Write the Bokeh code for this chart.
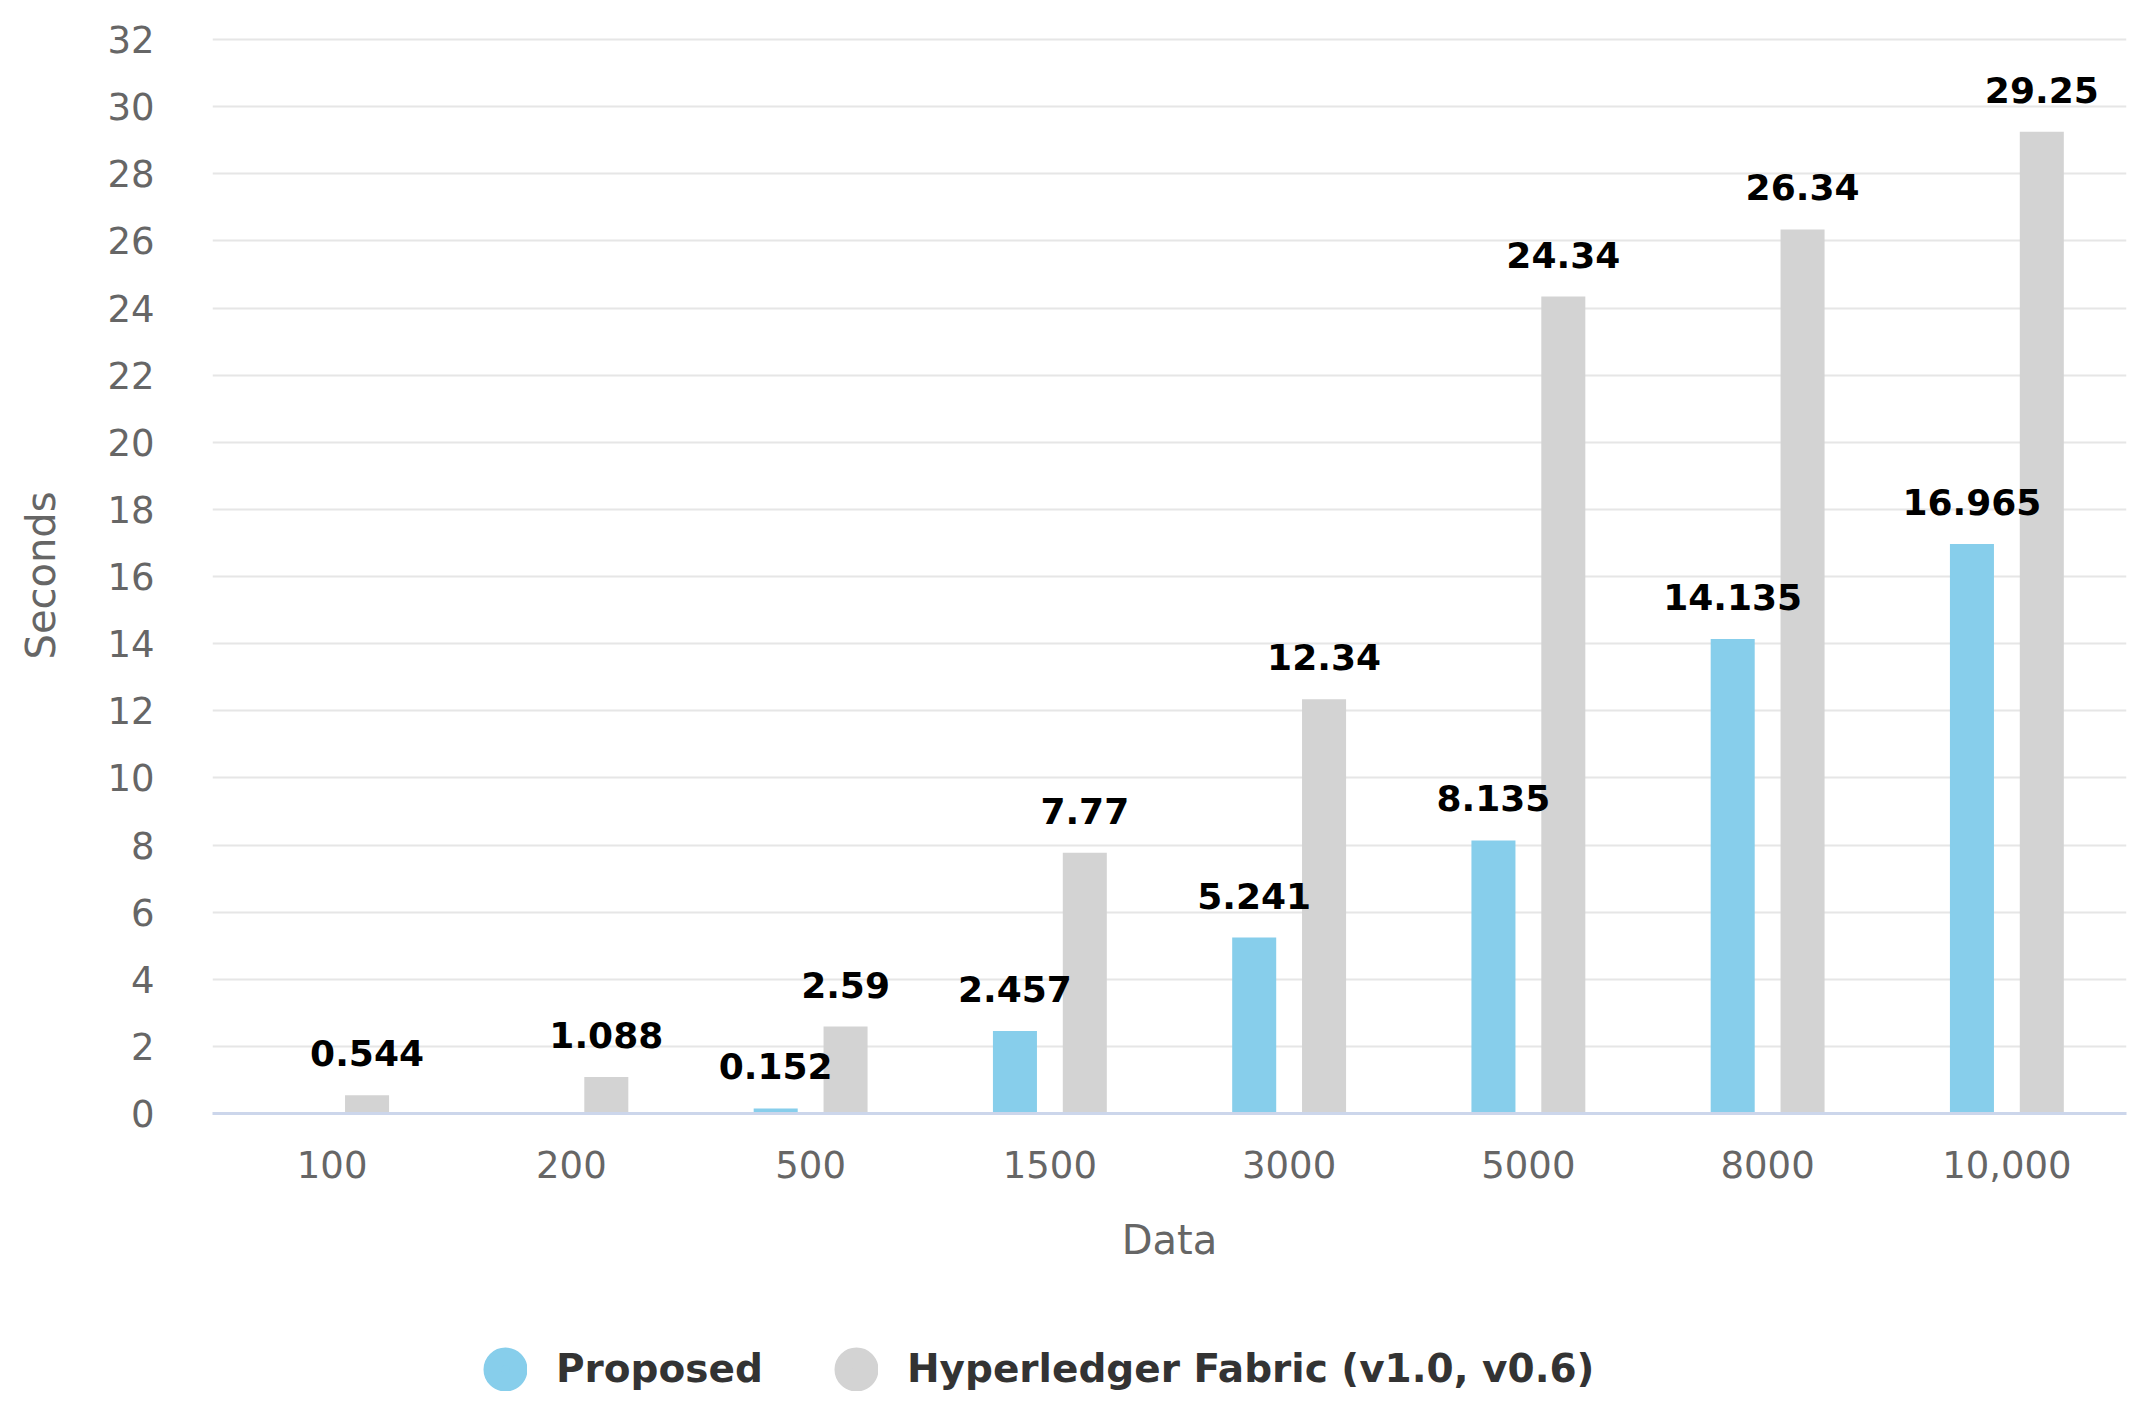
import math
from bokeh.plotting import figure
from bokeh.layouts import column
from bokeh.models import (ColumnDataSource, FactorRange, Range1d, FixedTicker,
                          Legend, LegendItem)
from bokeh.transform import dodge
from bokeh.core.properties import value
from bokeh.embed import file_html
from bokeh.resources import INLINE

# ---- data ----
categories = ["100", "200", "500", "1500", "3000", "5000", "8000", "10,000"]
proposed = [float("nan"), float("nan"), 0.152, 2.457, 5.241, 8.135, 14.135, 16.965]
fabric = [0.544, 1.088, 2.59, 7.77, 12.34, 24.34, 26.34, 29.25]
y_ticks = list(range(0, 34, 2))
series_names = ["Proposed", "Hyperledger Fabric (v1.0, v0.6)"]
series_colors = ["#87CEEB", "#D3D3D3"]

FONT = "DejaVu Sans"

bars = ColumnDataSource(dict(cat=categories, proposed=proposed, fabric=fabric))

def label_source(vals):
    c = [k for k, v in zip(categories, vals) if not math.isnan(v)]
    v = [v for v in vals if not math.isnan(v)]
    return ColumnDataSource(dict(cat=c, val=v, lab=[str(x) for x in v]))

p = figure(width=2138, height=1300,
           x_range=FactorRange(factors=categories),
           y_range=Range1d(0, 32.06),
           output_backend="svg", toolbar_location=None,
           min_border_left=212, min_border_right=12,
           min_border_top=37, min_border_bottom=187)
p.outline_line_color = None
p.background_fill_color = "white"
p.border_fill_color = "white"

off = 0.146
bw = 0.184
p.vbar(x=dodge("cat", -off, range=p.x_range), top="proposed", width=bw,
       source=bars, fill_color=series_colors[0], line_color=None)
p.vbar(x=dodge("cat", off, range=p.x_range), top="fabric", width=bw,
       source=bars, fill_color=series_colors[1], line_color=None)

for vals, o in ((proposed, -off), (fabric, off)):
    p.text(x=dodge("cat", o, range=p.x_range), y="val", text="lab",
           source=label_source(vals), text_align="center",
           text_baseline="alphabetic", y_offset=-42,
           text_font=value(FONT), text_font_style="bold",
           text_font_size="36px", text_color="#000000")

# axes
p.yaxis.ticker = FixedTicker(ticks=y_ticks)
p.yaxis.axis_line_color = None
p.yaxis.major_tick_line_color = None
p.yaxis.minor_tick_line_color = None
p.yaxis.major_label_standoff = 52
p.yaxis.axis_label = "Seconds"
p.yaxis.axis_label_standoff = 40

p.xaxis.axis_line_color = "#ccd6eb"
p.xaxis.axis_line_width = 3
p.xaxis.major_tick_line_color = None
p.xaxis.minor_tick_line_color = None
p.xaxis.major_label_standoff = 31
p.xaxis.axis_label = "Data"
p.xaxis.axis_label_standoff = 36

for ax in (p.xaxis, p.yaxis):
    ax.major_label_text_font = FONT
    ax.major_label_text_font_size = "37px"
    ax.major_label_text_color = "#666666"
    ax.axis_label_text_font = FONT
    ax.axis_label_text_font_size = "40px"
    ax.axis_label_text_font_style = "normal"
    ax.axis_label_text_color = "#666666"

p.xgrid.grid_line_color = None
p.ygrid.grid_line_color = "#e6e6e6"
p.ygrid.grid_line_width = 2

# ---- legend strip (circle symbols) ----
lg = figure(width=2138, height=100, x_range=Range1d(0, 1), y_range=Range1d(0, 1),
            x_axis_location=None, y_axis_location=None,
            output_backend="svg", toolbar_location=None, min_border=0)
lg.outline_line_color = None
lg.grid.visible = False
# placeholder point outside the visible range; only its legend swatch is shown
dummy = ColumnDataSource(dict(x=[-10], y=[-10]))
items = []
for name, col in zip(series_names, series_colors):
    r = lg.scatter(x="x", y="y", source=dummy, marker="circle", size=4,
                   fill_color=col, line_color=col, line_width=26.4)
    items.append(LegendItem(label=name, renderers=[r]))
legend = Legend(items=items, orientation="horizontal", location=(271, 9),
                glyph_width=44, glyph_height=44, label_standoff=29,
                spacing=71, padding=0, margin=0,
                label_text_font=FONT, label_text_font_style="bold",
                label_text_font_size="39px", label_text_color="#333333",
                border_line_color=None, background_fill_alpha=0)
lg.add_layout(legend, "center")

layout = column(p, lg, spacing=0)
open("out.html", "w").write(file_html(layout, INLINE))
